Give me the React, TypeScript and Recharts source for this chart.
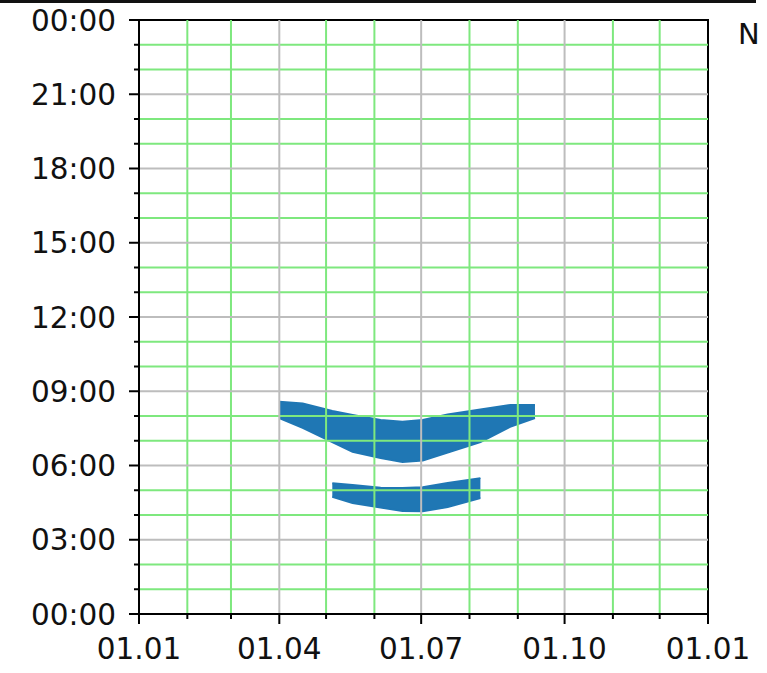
import React from "react";
import {
  ComposedChart,
  Area,
  XAxis,
  YAxis,
  ReferenceLine,
  ReferenceArea,
} from "recharts";

// X axis: day of year
const xTickDays = [0, 31, 59, 90, 120, 151, 181, 212, 243, 273, 304, 334, 365];
const xMajorDays = [0, 90, 181, 273, 365];
const xMajorLabels = ["01.01", "01.04", "01.07", "01.10", "01.01"];
const xGridMajor = [90, 181, 273];
const xGridMinor = [31, 59, 120, 151, 212, 243, 304, 334];

// Y axis: hour of day
const yTickHours = [0, 1, 2, 3, 4, 5, 6, 7, 8, 9, 10, 11, 12, 13, 14, 15, 16, 17, 18, 19, 20, 21, 22, 23, 24];
const yMajorHours = [0, 3, 6, 9, 12, 15, 18, 21, 24];
const yMajorLabels = ["00:00", "03:00", "06:00", "09:00", "12:00", "15:00", "18:00", "21:00", "00:00"];
const yGridMajor = [3, 6, 9, 12, 15, 18, 21];
const yGridMinor = [1, 2, 4, 5, 7, 8, 10, 11, 13, 14, 16, 17, 19, 20, 22, 23];

// Bands
const bandDays = [90, 105, 124, 137, 155, 169, 182, 198, 219, 238, 254];
const upperTop = [8.58, 8.51, 8.2, 8.04, 7.84, 7.77, 7.84, 8.06, 8.26, 8.44, 8.44];
const upperBottom = [7.92, 7.52, 6.95, 6.55, 6.3, 6.14, 6.2, 6.52, 6.95, 7.56, 7.92];
const lowerTop = [null, null, 5.28, 5.21, 5.1, 5.09, 5.12, 5.29, 5.49, null, null];
const lowerBottom = [null, null, 4.74, 4.48, 4.3, 4.16, 4.15, 4.32, 4.69, null, null];

const data = bandDays.map((d, i) => ({
  day: d,
  upper: [upperBottom[i], upperTop[i]],
  lower: lowerTop[i] == null ? null : [lowerBottom[i], lowerTop[i]],
}));

const FONT = "DejaVu Sans";
const BLUE = "#1f77b4";
const GREEN = "#7ee87e";
const GRAY = "#bdbdbd";
const LABEL_SIZE = 29.5;

const XTick = (props: any) => {
  const { x, y, payload } = props;
  const idx = xMajorDays.indexOf(payload.value);
  const major = idx >= 0;
  return (
    <g>
      <line x1={x} x2={x} y1={y} y2={y + (major ? 10 : 5)} stroke="#000" strokeWidth={2} />
      {major && (
        <text x={x} y={y + 45} textAnchor="middle" fontSize={LABEL_SIZE} fontFamily={FONT} fill="#111">
          {xMajorLabels[idx]}
        </text>
      )}
    </g>
  );
};

const YTick = (props: any) => {
  const { x, y, payload } = props;
  const idx = yMajorHours.indexOf(payload.value);
  const major = idx >= 0;
  return (
    <g>
      <line x1={x} x2={x - (major ? 10 : 5)} y1={y} y2={y} stroke="#000" strokeWidth={2} />
      {major && (
        <text x={x - 23} y={y + 10.5} textAnchor="end" fontSize={LABEL_SIZE} fontFamily={FONT} fill="#111">
          {yMajorLabels[idx]}
        </text>
      )}
    </g>
  );
};

export default function App() {
  return (
    <div style={{ position: "fixed", left: 0, top: 0, width: 767, height: 673, background: "#fff" }}>
      <div style={{ position: "absolute", left: 0, top: 0, width: 756, height: 3, background: "#111" }} />
      <div
        style={{
          position: "absolute",
          left: 738,
          top: 14,
          height: 40,
          fontFamily: FONT,
          fontSize: 29,
          lineHeight: "40px",
          color: "#111",
        }}
      >
        N
      </div>
      <ComposedChart
        width={767}
        height={673}
        data={data}
        margin={{ top: 20, right: 59, bottom: 0, left: 0 }}
      >
        <XAxis
          dataKey="day"
          type="number"
          domain={[0, 365]}
          ticks={xTickDays}
          interval={0}
          height={59}
          tickSize={0}
          tickMargin={0}
          tickLine={false}
          axisLine={{ stroke: "#000", strokeWidth: 2 }}
          tick={<XTick />}
          allowDataOverflow
        />
        <YAxis
          type="number"
          domain={[0, 24]}
          ticks={yTickHours}
          interval={0}
          width={139}
          tickSize={0}
          tickMargin={0}
          tickLine={false}
          axisLine={{ stroke: "#000", strokeWidth: 2 }}
          tick={<YTick />}
          allowDataOverflow
        />
        {xGridMinor.map((d) => (
          <ReferenceLine key={"xm" + d} x={d} stroke={GREEN} strokeWidth={2} />
        ))}
        {yGridMinor.map((h) => (
          <ReferenceLine key={"ym" + h} y={h} stroke={GREEN} strokeWidth={2} />
        ))}
        {xGridMajor.map((d) => (
          <ReferenceLine key={"xM" + d} x={d} stroke={GRAY} strokeWidth={2} />
        ))}
        {yGridMajor.map((h) => (
          <ReferenceLine key={"yM" + h} y={h} stroke={GRAY} strokeWidth={2} />
        ))}
        <Area
          dataKey="upper"
          type="linear"
          stroke={BLUE}
          strokeWidth={2}
          fill={BLUE}
          fillOpacity={1}
          isAnimationActive={false}
          dot={false}
          activeDot={false}
        />
        <Area
          dataKey="lower"
          type="linear"
          stroke={BLUE}
          strokeWidth={2}
          fill={BLUE}
          fillOpacity={1}
          isAnimationActive={false}
          dot={false}
          activeDot={false}
        />
        <ReferenceArea x1={0} x2={365} y1={0} y2={24} fill="none" stroke="#000" strokeWidth={2} fillOpacity={0} />
      </ComposedChart>
    </div>
  );
}
